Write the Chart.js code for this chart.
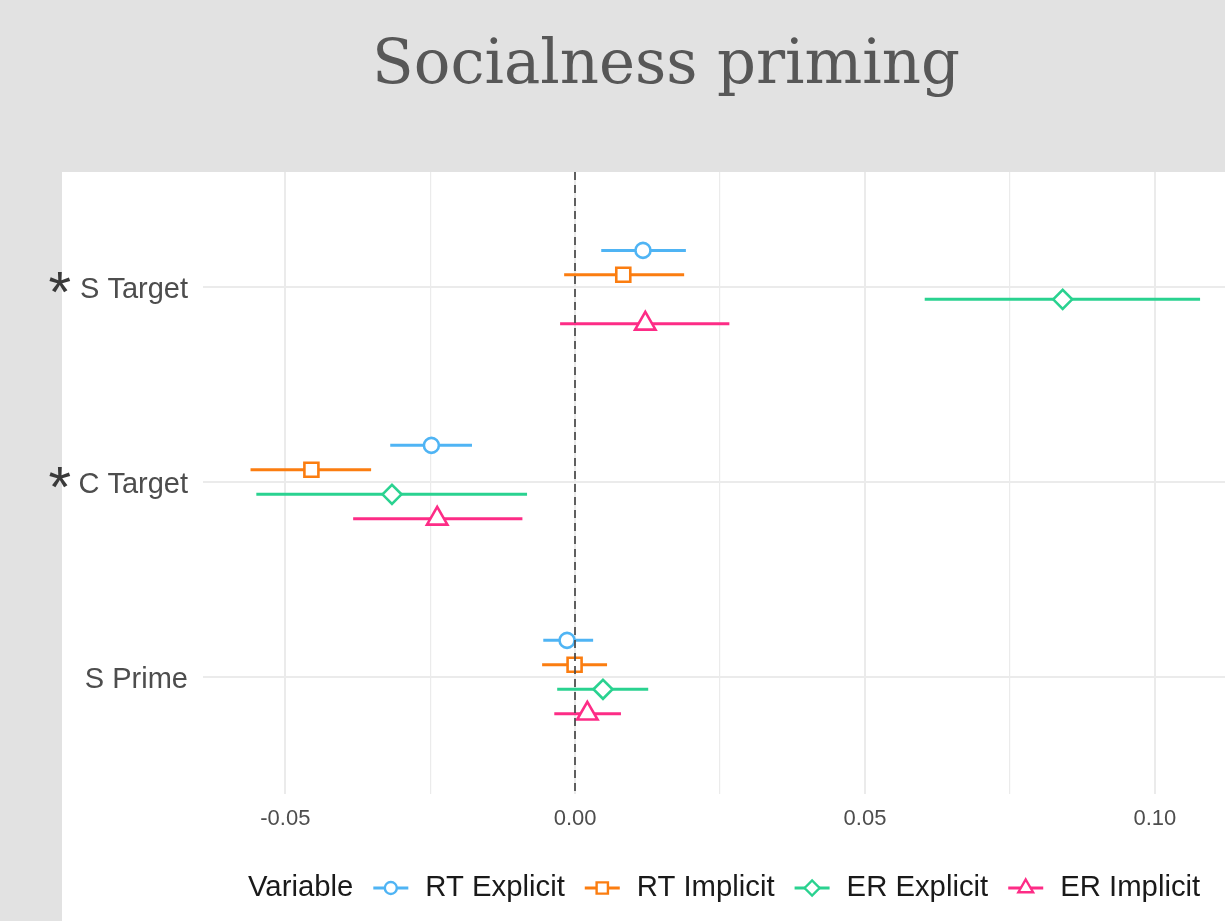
<!DOCTYPE html>
<html>
<head>
<meta charset="utf-8">
<script src="https://cdn.jsdelivr.net/npm/chart.js@4/dist/chart.umd.min.js"></script>
<style>
  html, body { margin: 0; padding: 0; background: #e2e2e2; }
  canvas { display: block; }
</style>
</head>
<body>
<canvas id="chart" width="1225" height="921"></canvas>
<script>
const title = 'Socialness priming';
const legendTitle = 'Variable';

// categories top to bottom, the starred ones get a "*" in front of the label
const categories = ['S Target', 'C Target', 'S Prime'];
const starred = [true, true, false];

const seriesNames = ['RT Explicit', 'RT Implicit', 'ER Explicit', 'ER Implicit'];
const seriesColors = ['#4fb4f4', '#fb7d10', '#2ad290', '#fd2c86'];
const seriesShapes = ['circle', 'rect', 'rectRot', 'triangle'];

// estimate and interval per category (S Target, C Target, S Prime)
const rtExplicitEst = [0.0117, -0.0248, -0.0014];
const rtExplicitLo = [0.0045, -0.0319, -0.0055];
const rtExplicitHi = [0.0191, -0.0178, 0.0031];

const rtImplicitEst = [0.0083, -0.0455, -0.0001];
const rtImplicitLo = [-0.0019, -0.0560, -0.0057];
const rtImplicitHi = [0.0188, -0.0352, 0.0055];

const erExplicitEst = [0.0841, -0.0316, 0.0048];
const erExplicitLo = [0.0603, -0.0550, -0.0031];
const erExplicitHi = [0.1078, -0.0083, 0.0126];

const erImplicitEst = [0.0121, -0.0238, 0.0021];
const erImplicitLo = [-0.0026, -0.0383, -0.0036];
const erImplicitHi = [0.0266, -0.0091, 0.0079];

const xTicks = [-0.05, -0.025, 0, 0.025, 0.05, 0.075, 0.10];
const xTickLabels = ['-0.05', '', '0.00', '', '0.05', '', '0.10'];

const estimates = [rtExplicitEst, rtImplicitEst, erExplicitEst, erImplicitEst];
const lows = [rtExplicitLo, rtImplicitLo, erExplicitLo, erImplicitLo];
const highs = [rtExplicitHi, rtImplicitHi, erExplicitHi, erImplicitHi];

// dodge of each series around the category line
const dodge = [0.188, 0.063, -0.063, -0.188];
const pointSizes = [7.5, 9.9, 9.5, 11.8];
const legendSizes = [6, 8, 7.5, 8.5];

const sans = '"Liberation Sans", Arial, sans-serif';
const catPos = j => categories.length - j;

const datasets = seriesNames.map((name, i) => ({
  label: name,
  data: categories.map((c, j) => ({
    x: estimates[i][j],
    y: catPos(j) + dodge[i],
    lo: lows[i][j],
    hi: highs[i][j]
  })),
  pointStyle: seriesShapes[i],
  pointRadius: pointSizes[i],
  pointBorderWidth: 2.6,
  pointBackgroundColor: '#ffffff',
  pointBorderColor: seriesColors[i],
  borderColor: seriesColors[i],
  showLine: false
}));

const backdrop = {
  id: 'backdrop',
  beforeDraw(chart) {
    const ctx = chart.ctx;
    ctx.save();
    ctx.fillStyle = '#e2e2e2';
    ctx.fillRect(0, 0, chart.width, chart.height);
    ctx.fillStyle = '#ffffff';
    ctx.fillRect(62, 172, chart.width - 62, chart.height - 172);

    // title, sized to the reference width
    ctx.font = '61px "DejaVu Serif", serif';
    const w = ctx.measureText(title).width;
    const size = 61 * 588 / w;
    ctx.font = size + 'px "DejaVu Serif", serif';
    ctx.fillStyle = '#575757';
    ctx.textAlign = 'center';
    ctx.textBaseline = 'alphabetic';
    ctx.fillText(title, 666, 83);
    ctx.restore();
  }
};

const errorBars = {
  id: 'errorBars',
  beforeDatasetsDraw(chart) {
    const ctx = chart.ctx;
    const xs = chart.scales.x, ys = chart.scales.y;
    ctx.save();
    ctx.lineWidth = 3;
    ctx.lineCap = 'butt';
    chart.data.datasets.forEach(ds => {
      ctx.strokeStyle = ds.borderColor;
      ds.data.forEach(p => {
        const y = ys.getPixelForValue(p.y);
        ctx.beginPath();
        ctx.moveTo(xs.getPixelForValue(p.lo), y);
        ctx.lineTo(xs.getPixelForValue(p.hi), y);
        ctx.stroke();
      });
    });
    ctx.restore();
  },
  afterDatasetsDraw(chart) {
    // dashed zero line sits on top of the marks
    const ctx = chart.ctx;
    const x = Math.round(chart.scales.x.getPixelForValue(0));
    const area = chart.chartArea;
    ctx.save();
    ctx.strokeStyle = 'rgba(70,70,70,0.85)';
    ctx.lineWidth = 2;
    ctx.setLineDash([8, 5]);
    ctx.beginPath();
    ctx.moveTo(x, area.top);
    ctx.lineTo(x, area.bottom);
    ctx.stroke();
    ctx.restore();
  }
};

const extras = {
  id: 'extras',
  afterDraw(chart) {
    const ctx = chart.ctx;
    const ys = chart.scales.y;
    ctx.save();

    // stars in front of the category labels
    ctx.font = '58px ' + sans;
    ctx.fillStyle = '#3a3a3a';
    ctx.textAlign = 'left';
    ctx.textBaseline = 'alphabetic';
    const m = ctx.measureText('*');
    starred.forEach((s, j) => {
      if (!s) return;
      const cy = ys.getPixelForValue(catPos(j)) - 4.5;
      const gw = m.actualBoundingBoxRight + m.actualBoundingBoxLeft;
      const gh = m.actualBoundingBoxAscent + m.actualBoundingBoxDescent;
      const x = 59.5 - gw / 2 + m.actualBoundingBoxLeft;
      const y = cy - gh / 2 + m.actualBoundingBoxAscent;
      ctx.fillText('*', x, y);
    });

    // legend along the bottom
    const ly = 888;
    let x = 248;
    ctx.font = '29.3px ' + sans;
    ctx.fillStyle = '#1a1a1a';
    ctx.textBaseline = 'middle';
    ctx.fillText(legendTitle, x, ly);
    x += ctx.measureText(legendTitle).width;
    seriesNames.forEach((name, i) => {
      x += 20;
      ctx.strokeStyle = seriesColors[i];
      ctx.lineWidth = 3;
      ctx.beginPath();
      ctx.moveTo(x, ly);
      ctx.lineTo(x + 35, ly);
      ctx.stroke();
      ctx.fillStyle = '#ffffff';
      ctx.lineWidth = 2.4;
      Chart.helpers.drawPoint(ctx, {
        pointStyle: seriesShapes[i],
        radius: legendSizes[i],
        rotation: 0,
        borderWidth: 2.4
      }, x + 17.5, ly);
      x += 35 + 17;
      ctx.fillStyle = '#1a1a1a';
      ctx.fillText(name, x, ly);
      x += ctx.measureText(name).width;
    });
    ctx.restore();
  }
};

new Chart(document.getElementById('chart'), {
  type: 'scatter',
  data: { datasets },
  options: {
    responsive: false,
    animation: false,
    layout: { autoPadding: false, padding: { top: 172, left: 0, right: 0, bottom: 0 } },
    plugins: {
      legend: { display: false },
      tooltip: { enabled: false }
    },
    scales: {
      x: {
        type: 'linear',
        min: -0.0642,
        max: 0.1121,
        afterBuildTicks: s => { s.ticks = xTicks.map(v => ({ value: v })); },
        afterFit: s => {
          s.height = 127;
          s.paddingLeft = 0;
          s.paddingRight = 0;
        },
        border: { display: false },
        grid: {
          drawTicks: false,
          color: '#ebebeb',
          lineWidth: c => (c.index % 2 === 0 ? 2 : 1.2)
        },
        ticks: {
          autoSkip: false,
          maxRotation: 0,
          padding: 12,
          color: '#4d4d4d',
          font: { family: sans, size: 22 },
          callback: (v, i) => xTickLabels[i]
        }
      },
      y: {
        type: 'linear',
        min: 0.4,
        max: 3.59,
        afterBuildTicks: s => {
          s.ticks = categories.map((c, j) => ({ value: catPos(j) })).reverse();
        },
        afterFit: s => { s.width = 203; },
        border: { display: false },
        grid: { drawTicks: false, color: '#ebebeb', lineWidth: 2 },
        ticks: {
          autoSkip: false,
          padding: 15,
          labelOffset: 3,
          color: '#4d4d4d',
          font: { family: sans, size: 29 },
          callback: v => categories[categories.length - v]
        }
      }
    }
  },
  plugins: [backdrop, errorBars, extras]
});
</script>
</body>
</html>
